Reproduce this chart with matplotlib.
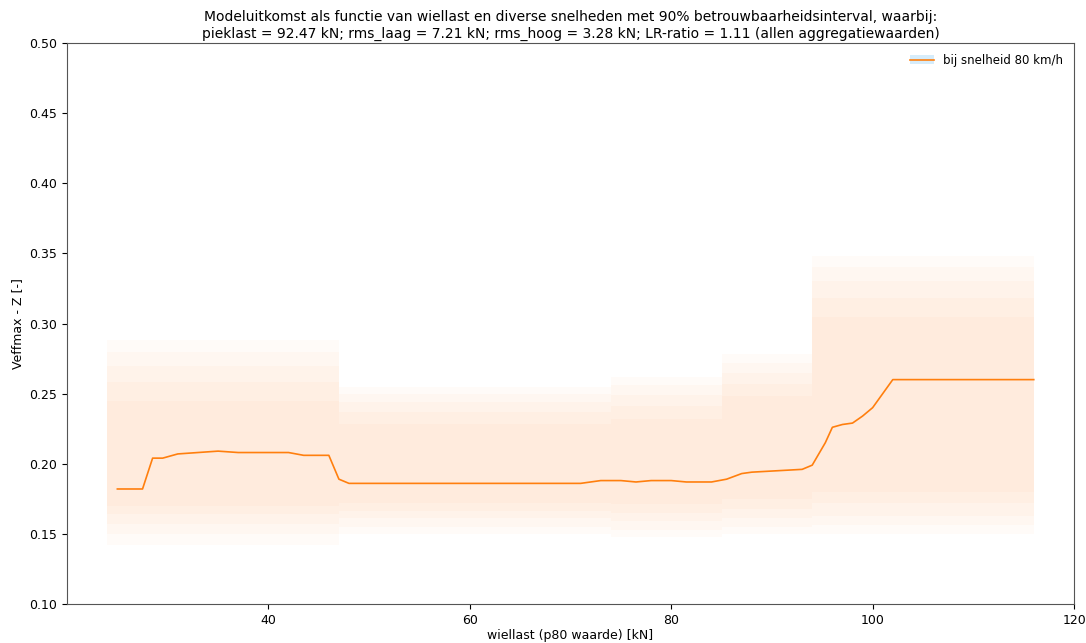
import numpy as np
import matplotlib.pyplot as plt
from matplotlib.patches import Patch

# Median model output (line)
wiellast = [25, 27.5, 28.5, 29.5, 31, 33, 35, 37, 39, 42, 43.5, 46, 47, 48, 70, 71,
            73, 75, 76.5, 78, 80, 81.5, 84, 85.5, 87, 88, 90.5, 93, 94, 95.3, 96,
            97, 98, 99, 100, 100.5, 102, 116]
veffmax = [0.182, 0.182, 0.204, 0.204, 0.207, 0.208, 0.209, 0.208, 0.208, 0.208,
           0.206, 0.206, 0.189, 0.186, 0.186, 0.186, 0.188, 0.188, 0.187, 0.188,
           0.188, 0.187, 0.187, 0.189, 0.193, 0.194, 0.195, 0.196, 0.199, 0.215,
           0.226, 0.228, 0.229, 0.234, 0.240, 0.245, 0.260, 0.260]

# Interval per load segment
band_x = [24, 47, 47, 74, 74, 85, 85, 94, 94, 116]
band_lo_05 = [0.142, 0.142, 0.150, 0.150, 0.148, 0.148, 0.150, 0.150, 0.150, 0.150]
band_hi_95 = [0.288, 0.288, 0.255, 0.255, 0.262, 0.262, 0.278, 0.278, 0.348, 0.348]
band_lo_10 = [0.150, 0.150, 0.155, 0.155, 0.153, 0.153, 0.155, 0.155, 0.156, 0.156]
band_hi_90 = [0.280, 0.280, 0.250, 0.250, 0.256, 0.256, 0.272, 0.272, 0.340, 0.340]
band_lo_20 = [0.157, 0.157, 0.161, 0.161, 0.159, 0.159, 0.161, 0.161, 0.163, 0.163]
band_hi_80 = [0.270, 0.270, 0.244, 0.244, 0.249, 0.249, 0.265, 0.265, 0.330, 0.330]
band_lo_30 = [0.164, 0.164, 0.166, 0.166, 0.165, 0.165, 0.168, 0.168, 0.172, 0.172]
band_hi_70 = [0.258, 0.258, 0.237, 0.237, 0.241, 0.241, 0.257, 0.257, 0.318, 0.318]
band_lo_40 = [0.170, 0.170, 0.172, 0.172, 0.171, 0.171, 0.175, 0.175, 0.180, 0.180]
band_hi_60 = [0.245, 0.245, 0.228, 0.228, 0.232, 0.232, 0.248, 0.248, 0.305, 0.305]

TITLE = ('Modeluitkomst als functie van wiellast en diverse snelheden met 90% '
         'betrouwbaarheidsinterval, waarbij:\n'
         'pieklast = 92.47 kN; rms_laag = 7.21 kN; rms_hoog = 3.28 kN; '
         'LR-ratio = 1.11 (allen aggregatiewaarden)')


def main():
    fig = plt.figure(figsize=(10.86, 6.43), dpi=100)
    ax = fig.add_axes([0.0617, 0.0607, 0.9273, 0.8723])

    bands = [(band_lo_05, band_hi_95), (band_lo_10, band_hi_90),
             (band_lo_20, band_hi_80), (band_lo_30, band_hi_70),
             (band_lo_40, band_hi_60)]
    for lo, hi in bands:
        ax.fill_between(band_x, lo, hi, color='#ff7f0e', alpha=0.028, linewidth=0)

    line, = ax.plot(wiellast, veffmax, color='#ff7f0e', linewidth=1.2)

    ax.set_xlim(20, 120)
    ax.set_ylim(0.10, 0.50)
    ax.set_xticks([40, 60, 80, 100, 120])
    ax.set_yticks(np.arange(0.10, 0.501, 0.05))
    ax.tick_params(labelsize=9)
    for spine in ax.spines.values():
        spine.set_color('#555555')
    ax.set_xlabel('wiellast (p80 waarde) [kN]', fontsize=9, labelpad=2)
    ax.set_ylabel('Veffmax - Z [-]', fontsize=9)
    ax.set_title(TITLE, fontsize=10, pad=4)

    patch = Patch(facecolor='#d6ecfa', edgecolor='none')
    ax.legend([(patch, line)], ['bij snelheid 80 km/h'], loc='upper right',
              frameon=False, fontsize=8.5)

    fig.savefig('out.png', dpi=100)


if __name__ == '__main__':
    main()
